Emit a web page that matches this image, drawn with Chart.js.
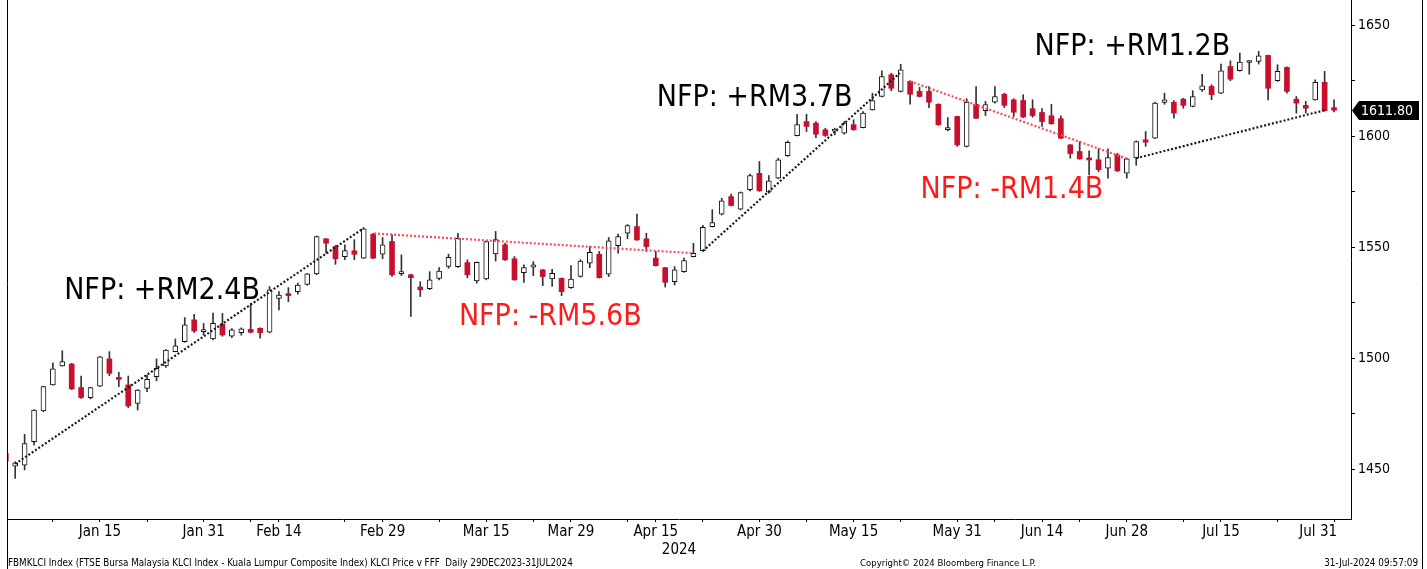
<!DOCTYPE html>
<html>
<head>
<meta charset="utf-8">
<script src="https://cdn.jsdelivr.net/npm/chart.js@4.4.0/dist/chart.umd.min.js"></script>
<style>
html,body{margin:0;padding:0;background:#fff;}
#c{display:block;}
</style>
</head>
<body>
<canvas id="c" width="1427" height="569"></canvas>
<script>
// ---------------- DATA ----------------
const dates = [
'2023-12-29',
'2024-01-02','2024-01-03','2024-01-04','2024-01-05','2024-01-08','2024-01-09','2024-01-10','2024-01-11','2024-01-12',
'2024-01-15','2024-01-16','2024-01-17','2024-01-18','2024-01-19','2024-01-22','2024-01-23','2024-01-24','2024-01-26',
'2024-01-29','2024-01-30','2024-01-31',
'2024-02-02','2024-02-05','2024-02-06','2024-02-07','2024-02-08','2024-02-09','2024-02-13','2024-02-14','2024-02-15',
'2024-02-16','2024-02-19','2024-02-20','2024-02-21','2024-02-22','2024-02-23','2024-02-26','2024-02-27','2024-02-28','2024-02-29',
'2024-03-01','2024-03-04','2024-03-05','2024-03-06','2024-03-07','2024-03-08','2024-03-11','2024-03-12','2024-03-13','2024-03-14',
'2024-03-15','2024-03-18','2024-03-19','2024-03-20','2024-03-21','2024-03-22','2024-03-25','2024-03-26','2024-03-27','2024-03-29',
'2024-04-01','2024-04-02','2024-04-03','2024-04-04','2024-04-05','2024-04-08','2024-04-09','2024-04-12','2024-04-15','2024-04-16',
'2024-04-17','2024-04-18','2024-04-19','2024-04-22','2024-04-23','2024-04-24','2024-04-25','2024-04-26','2024-04-29','2024-04-30',
'2024-05-02','2024-05-03','2024-05-06','2024-05-07','2024-05-08','2024-05-09','2024-05-10','2024-05-13','2024-05-14','2024-05-15',
'2024-05-16','2024-05-17','2024-05-20','2024-05-21','2024-05-23','2024-05-24','2024-05-27','2024-05-28','2024-05-29','2024-05-30','2024-05-31',
'2024-06-04','2024-06-05','2024-06-06','2024-06-07','2024-06-10','2024-06-11','2024-06-12','2024-06-13','2024-06-14',
'2024-06-18','2024-06-19','2024-06-20','2024-06-21','2024-06-24','2024-06-25','2024-06-26','2024-06-27','2024-06-28',
'2024-07-01','2024-07-02','2024-07-03','2024-07-04','2024-07-05','2024-07-09','2024-07-10','2024-07-11','2024-07-12',
'2024-07-15','2024-07-16','2024-07-17','2024-07-18','2024-07-19','2024-07-22','2024-07-23','2024-07-24','2024-07-25','2024-07-26',
'2024-07-29','2024-07-30','2024-07-31'
];

const opens = [
1457.3,1451.5,1452,1462.5,1476.4,1488.1,1496.7,1497.5,1486.9,1482.4,
1487.5,1499.8,1491.4,1488.1,1479.8,1486.5,1491.8,1496.6,1503.1,1507.6,
1517.4,1512.1,1508.8,1515.4,1510,1511.6,1513.1,1513.6,1511.8,1527.1,
1528.9,1530.1,1533.4,1538.1,1553.9,1550.4,1545.9,1548.5,1545.2,1556,
1547,1552.7,1538.2,1537.7,1532.2,1531.4,1536.1,1541.5,1541.4,1543.2,
1534.9,1535.8,1547.1,1551.2,1544.9,1538.7,1541.1,1539.9,1535.8,1536.1,
1531.9,1536.9,1542.9,1546.9,1538,1550.8,1556.4,1559.4,1553.9,1545.2,
1540.9,1534.6,1539.1,1545.9,1548.5,1559.4,1565,1572.9,1567.2,1576,
1583.4,1574.9,1581.2,1591.3,1600.4,1606.7,1606,1603,1602.4,1601.5,
1605.3,1604,1612,1618,1627.8,1620.3,1624.8,1620.3,1620.3,1614.5,
1603,1609,1595.5,1614.5,1611.6,1615.4,1619,1616.5,1616.2,1612.5,
1610.8,1609.3,1608,1596.2,1593.2,1589.7,1589.5,1585.7,1591.7,1583.5,
1590.3,1598.5,1599.2,1615.3,1615.4,1616.8,1613.5,1621,1622.5,1619.5,
1631.5,1629.6,1633.3,1633.8,1636.5,1625.1,1631.1,1616.8,1614,1616.5,
1624.4,1613
];
const highs = [
1461,1453.5,1465.8,1477,1487.5,1498,1503.5,1497.8,1492.1,1487,
1501,1503.1,1493.8,1492.1,1486,1492.5,1499.8,1504,1508.8,1518.4,
1519.9,1515.8,1520.5,1520.3,1513.5,1513.8,1524.9,1513.8,1532.4,1530.1,
1531.9,1534,1538.3,1555.2,1554,1550.9,1551.2,1553.5,1558.8,1556.3,
1554.5,1555.7,1546.7,1538,1534.6,1539.1,1540.9,1547,1556.4,1544.4,
1543.5,1553,1557.2,1551.9,1545.9,1542.2,1543.6,1540.1,1540.2,1536.3,
1541.8,1544.5,1550.4,1548.2,1554.5,1556,1560.3,1565,1556.4,1548.2,
1541,1541.4,1545.2,1551.9,1560,1567,1572.2,1574,1575,1583,
1588.7,1582.4,1590.2,1598,1610,1610,1606.7,1603.7,1603.7,1606.7,
1607.5,1611.2,1619.5,1629.6,1628.5,1632.5,1625.1,1622.1,1622.5,1614.7,
1608.5,1609.2,1617,1622.5,1615.8,1622.5,1619.5,1617,1618.8,1616.5,
1612.5,1614.5,1609.3,1596.4,1597.7,1593.5,1594.4,1594.4,1592.4,1590.2,
1598,1602.2,1615.5,1619.5,1616.1,1617.2,1620.6,1628,1623.3,1632.6,
1634.1,1637.5,1634.1,1638.3,1636.7,1632.3,1631.3,1618,1615.8,1625.5,
1629.3,1616.5
];
const lows = [
1453.4,1446,1449.8,1461,1476,1488,1496.5,1486,1482,1481.8,
1487.3,1492.3,1487.3,1477.9,1476.8,1485,1489.9,1496,1503,1507.3,
1511.7,1510.6,1508.3,1510,1509.4,1510.5,1511.5,1509.1,1511.5,1521.9,
1525.6,1529,1533,1537.7,1547.4,1542.4,1544.5,1544.5,1545,1545,
1544.9,1536.9,1537.3,1518.9,1527.9,1531,1535.4,1540.6,1541,1536.4,
1533.9,1535.4,1543.9,1544.2,1535.2,1534.3,1537.3,1532.8,1532.4,1528.3,
1531.5,1536.6,1540.9,1536.2,1536.9,1547.4,1553.9,1553.2,1548.2,1541.6,
1532.2,1533.1,1538.8,1545.7,1548.2,1559.2,1564.6,1568.7,1566.9,1575.5,
1575.3,1574.4,1581,1591,1600.2,1602.2,1599.5,1600,1600.7,1601,
1602.8,1603.8,1611.8,1617.8,1620.6,1620,1614.5,1617.8,1613,1605,
1602.5,1595.5,1595.2,1608,1609.4,1615,1613,1609,1608.5,1608.7,
1604.5,1605.5,1599,1590.2,1589.7,1582.7,1584.2,1581.2,1584.2,1581.2,
1587,1595.5,1599,1614.5,1608.2,1612.7,1613.3,1620.3,1616.5,1619.3,
1625.1,1629.4,1628,1632.6,1616.5,1624.8,1619.5,1610.5,1610.5,1616.3,
1611.4,1611
];
const closes = [
1453.8,1453,1461.7,1476.8,1487.3,1495.3,1498.6,1486.3,1482.4,1486.9,
1500.7,1493.3,1490.6,1478.6,1485.8,1490.6,1495.6,1503.8,1505.7,1515.1,
1512.4,1512.3,1515.8,1510.6,1512.9,1513.3,1511.8,1511.6,1530.9,1528.6,
1528.3,1533.1,1538.1,1554.9,1551.9,1544.9,1548.6,1546.9,1558.4,1545.2,
1551.2,1537.7,1538.6,1536.4,1530.9,1535.4,1539.4,1545.5,1554.1,1537.7,
1543.3,1552.7,1553.5,1544.4,1535.4,1540.9,1542.2,1536.9,1538.4,1530.1,
1535.8,1543.9,1547.8,1536.4,1553,1554.9,1559.9,1553.4,1550.4,1541.8,
1534.3,1539.9,1544.1,1547.4,1559.1,1561.2,1571,1568.9,1574.7,1582.4,
1575.5,1580,1589.5,1597.3,1605.3,1604.5,1601,1600.4,1602.6,1606,
1603,1610.5,1616.1,1627,1621.7,1630,1619,1618,1615.4,1605.3,
1604,1596.2,1615.4,1608.2,1614.3,1618,1614,1610.9,1608.7,1609.4,
1606.7,1605.7,1599.2,1592.3,1589.9,1589.4,1585,1590.5,1584.5,1589.9,
1597.7,1597.4,1615,1616.5,1610.5,1614,1618,1622.8,1618.8,1629.6,
1625.8,1633.5,1633.6,1636.3,1621.7,1629.3,1620.3,1615,1612.7,1624.4,
1611.6,1611.8
];

// x-axis ticks (trading-day index) and their labels
const xMajorIdx = [10,21,29,40,51,60,69,80,90,101,110,119,129,141];
const xMajorLabels = ['Jan 15','Jan 31','Feb 14','Feb 29','Mar 15','Mar 29','Apr 15','Apr 30','May 15','May 31','Jun 14','Jun 28','Jul 15','Jul 31'];
const xMinorIdx = [5,15,26,36,46,56,66,74,85,95,105,114,125,135];
const yearLabel = '2024';

// y-axis ticks
const yTickVals = [1450,1475,1500,1525,1550,1575,1600,1625,1650];
const yLabelVals = [1450,1500,1550,1600,1650];

// dotted trend lines (index, price)
const trendX0 = [1, 39.1, 74, 96, 120];
const trendY0 = [1452.5, 1556.3, 1548.4, 1624.8, 1590.2];
const trendX1 = [38, 73, 94.9, 119, 140];
const trendY1 = [1558.7, 1547.4, 1628.5, 1590, 1611.8];
const trendColors = ['#1a1a1a', '#ff4a5a', '#1a1a1a', '#ff4a5a', '#1a1a1a'];

// annotations (left index, baseline price)
const annoText = ['NFP: +RM2.4B', 'NFP: -RM5.6B', 'NFP: +RM3.7B', 'NFP: -RM1.4B', 'NFP: +RM1.2B'];
const annoX = [6.2, 48.1, 69.1, 97.1, 109.2];
const annoY = [1527.0, 1515.1, 1613.5, 1572.2, 1636.5];
const annoColors = ['#000000', '#ff1a1a', '#000000', '#ff1a1a', '#000000'];

const footerLeft = 'FBMKLCI Index (FTSE Bursa Malaysia KLCI Index - Kuala Lumpur Composite Index) KLCI Price v FFF  Daily 29DEC2023-31JUL2024';
const footerMid = 'Copyright\u00A9 2024 Bloomberg Finance L.P.';
const footerRight = '31-Jul-2024 09:57:09';

// ---------------- STYLE ----------------
const RED = '#c8102e';
const FONT = '"DejaVu Sans Condensed", "DejaVu Sans", sans-serif';

const wickData = dates.map((d, i) => ({x: i, y: [lows[i], highs[i]]}));
const upData = [], downData = [];
dates.forEach((d, i) => {
  const o = {x: i, y: [opens[i], closes[i]]};
  (closes[i] < opens[i] ? downData : upData).push(o);
});
const trendSets = trendX0.map((x0, k) => ({
  type: 'line',
  data: [{x: x0, y: trendY0[k]}, {x: trendX1[k], y: trendY1[k]}],
  borderColor: trendColors[k], borderWidth: 2.2, borderDash: [2, 2],
  pointRadius: 0, fill: false, order: 0, tension: 0
}));

function fitFont(ctx, text, width, base) {
  ctx.font = base + 'px ' + FONT;
  const w = ctx.measureText(text).width;
  return (base * width / w).toFixed(2) + 'px ' + FONT;
}

const overlay = {
  id: 'overlay',
  afterDatasetsDraw(chart) {
    const {ctx} = chart; const xs = chart.scales.x, ys = chart.scales.y;
    ctx.save();
    ctx.textAlign = 'left'; ctx.textBaseline = 'alphabetic';
    ctx.font = '30px ' + FONT;
    annoText.forEach((t, k) => {
      ctx.fillStyle = annoColors[k];
      ctx.fillText(t, xs.getPixelForValue(annoX[k]), ys.getPixelForValue(annoY[k]));
    });
    ctx.restore();
  },
  afterDraw(chart) {
    const {ctx, chartArea: a} = chart; const xs = chart.scales.x, ys = chart.scales.y;
    ctx.save();
    // frame
    ctx.strokeStyle = '#000'; ctx.lineWidth = 1;
    ctx.beginPath();
    ctx.moveTo(7.5, 0); ctx.lineTo(7.5, 569);
    ctx.moveTo(a.right + 0.5, 0); ctx.lineTo(a.right + 0.5, a.bottom + 0.5);
    ctx.moveTo(7, a.bottom + 0.5); ctx.lineTo(a.right + 1, a.bottom + 0.5);
    ctx.moveTo(1422.5, 0); ctx.lineTo(1422.5, 569);
    ctx.stroke();
    // x labels
    ctx.fillStyle = '#000'; ctx.textBaseline = 'alphabetic';
    ctx.font = '15px ' + FONT;
    xMajorIdx.forEach((v, k) => {
      const p = xs.getPixelForValue(v);
      if (k === xMajorIdx.length - 1) { ctx.textAlign = 'right'; ctx.fillText(xMajorLabels[k], p + 3, 535.5); }
      else { ctx.textAlign = 'center'; ctx.fillText(xMajorLabels[k], p, 535.5); }
    });
    ctx.textAlign = 'center';
    ctx.fillText(yearLabel, (a.left + a.right) / 2, 554);
    // footer
    ctx.textAlign = 'left';
    ctx.font = fitFont(ctx, footerLeft, 565, 10);
    ctx.fillText(footerLeft, 8, 566);
    ctx.font = fitFont(ctx, footerMid, 176, 10);
    ctx.fillText(footerMid, 860, 566);
    ctx.textAlign = 'right';
    ctx.font = fitFont(ctx, footerRight, 94, 10);
    ctx.fillText(footerRight, 1418, 566);
    // last price tag
    const last = closes[closes.length - 1];
    const y = Math.round(ys.getPixelForValue(last)) + 0.5;
    const x0 = a.right + 1;
    ctx.fillStyle = '#000';
    ctx.beginPath();
    ctx.moveTo(x0, y); ctx.lineTo(x0 + 7, y - 9.5); ctx.lineTo(1419, y - 9.5);
    ctx.lineTo(1419, y + 9.5); ctx.lineTo(x0 + 7, y + 9.5); ctx.closePath(); ctx.fill();
    ctx.fillStyle = '#fff'; ctx.textAlign = 'left'; ctx.textBaseline = 'middle';
    ctx.font = '14px ' + FONT;
    ctx.fillText(last.toFixed(2), x0 + 9, y + 0.5);
    ctx.restore();
  }
};

new Chart(document.getElementById('c'), {
  type: 'bar',
  data: {
    datasets: [
      {label: 'range', data: wickData, backgroundColor: '#333', borderWidth: 0, barThickness: 1, grouped: false, order: 3},
      {label: 'up', data: upData, backgroundColor: '#fff', borderColor: '#111', borderWidth: 1, borderSkipped: false,
       barThickness: 5, grouped: false, minBarLength: 2, order: 2},
      {label: 'down', data: downData, backgroundColor: RED, borderWidth: 0, barThickness: 5, grouped: false, minBarLength: 2, order: 2},
      ...trendSets
    ]
  },
  options: {
    responsive: false,
    animation: false,
    events: [],
    layout: {padding: {left: 7, top: 5, right: 0, bottom: 0}},
    plugins: {legend: {display: false}, tooltip: {enabled: false}},
    scales: {
      x: {
        type: 'linear', min: 0.13, max: 142.8, offset: false,
        afterBuildTicks: s => { s.ticks = xMajorIdx.concat(xMinorIdx).sort((a, b) => a - b).map(v => ({value: v})); },
        afterFit: s => { s.height = 50; s.paddingLeft = 0; s.paddingRight = 0; },
        ticks: {display: true, autoSkip: false, maxRotation: 0, callback: () => ''},
        grid: {display: true, drawOnChartArea: false, drawTicks: true, tickLength: 3, color: '#000', offset: false},
        border: {display: false}
      },
      y: {
        position: 'right', min: 1427.7, max: 1659.2,
        afterBuildTicks: s => { s.ticks = yTickVals.map(v => ({value: v})); },
        afterFit: s => { s.width = 76; s.paddingTop = 0; s.paddingBottom = 0; },
        ticks: {color: '#000', padding: 3, font: {family: FONT, size: 14},
                callback: v => yLabelVals.includes(v) ? String(v) : ''},
        grid: {display: true, drawOnChartArea: false, drawTicks: true, tickLength: 4, color: '#000'},
        border: {display: false}
      }
    }
  },
  plugins: [overlay]
});
</script>
</body>
</html>
